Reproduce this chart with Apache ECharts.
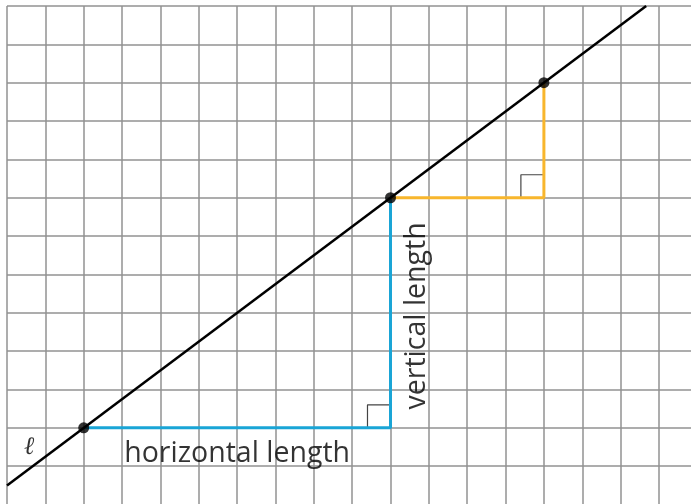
<!DOCTYPE html>
<html>
<head>
<meta charset="utf-8">
<script src="https://cdn.jsdelivr.net/npm/echarts@6/dist/echarts.min.js"></script>
<style>
html,body{margin:0;padding:0;background:#fff;}
#chart{width:691px;height:504px;}
</style>
</head>
<body>
<div id="chart"></div>
<script>
// Grid extent (cells)
const xRange = [0, 18];
const yRange = [0, 13];
// Line ℓ end points and marked points on it
const lineEnds = [[0, 0.5], [16.667, 13]];
const linePoints = [[2, 2], [10, 8], [14, 11]];
// Slope triangles
const blueLegs = [[2, 2], [10, 2], [10, 8]];
const orangeLegs = [[10, 8], [14, 8], [14, 11]];
// Right-angle markers
const blueCorner = [[9.4, 2], [9.4, 2.6], [10, 2.6]];
const orangeCorner = [[13.4, 8], [13.4, 8.6], [14, 8.6]];
// Labels
const labels = [
  { value: [6.0, 1.33], text: 'horizontal length', rotate: 0 },
  { value: [10.68, 4.92], text: 'vertical length', rotate: 90 }
];
const lineLabel = { value: [0.57, 1.5], text: 'ℓ' };

const cell = 38.35;
const chart = echarts.init(document.getElementById('chart'));
const axisCommon = {
  type: 'value',
  interval: 1,
  axisLine: { show: false },
  axisTick: { show: false },
  axisLabel: { show: false },
  splitLine: { show: true, lineStyle: { color: '#929292', width: 1.5 } }
};
chart.setOption({
  animation: false,
  backgroundColor: '#fff',
  grid: {
    left: 7, top: 6,
    width: cell * (xRange[1] - xRange[0]),
    height: cell * (yRange[1] - yRange[0]),
    containLabel: false,
    outerBoundsMode: 'none'
  },
  xAxis: Object.assign({ min: xRange[0], max: xRange[1] }, axisCommon),
  yAxis: Object.assign({ min: yRange[0], max: yRange[1] }, axisCommon),
  series: [
    { type: 'line', data: blueCorner, symbol: 'none', lineStyle: { color: '#444', width: 1.2 }, z: 3 },
    { type: 'line', data: orangeCorner, symbol: 'none', lineStyle: { color: '#444', width: 1.2 }, z: 3 },
    { type: 'line', data: blueLegs, symbol: 'none', lineStyle: { color: '#1aa5d6', width: 3 }, z: 4 },
    { type: 'line', data: orangeLegs, symbol: 'none', lineStyle: { color: '#f8b62d', width: 3 }, z: 4 },
    { type: 'line', data: lineEnds, symbol: 'none', lineStyle: { color: '#000', width: 2.5 }, z: 5 },
    { type: 'scatter', data: linePoints, symbol: 'circle', symbolSize: 11, itemStyle: { color: '#000' }, z: 6 },
    {
      type: 'scatter', symbolSize: 0, z: 7,
      data: labels.map(l => ({
        value: l.value,
        label: {
          show: true, position: 'inside', formatter: l.text, rotate: l.rotate,
          fontFamily: 'Open Sans', fontSize: 28.5, color: '#000', align: 'center', verticalAlign: 'middle'
        }
      }))
    },
    {
      type: 'scatter', symbolSize: 0, z: 7,
      data: [{
        value: lineLabel.value,
        label: { show: true, position: 'inside', formatter: lineLabel.text, fontFamily: 'DejaVu Serif', fontStyle: 'italic', fontSize: 25, color: '#000' }
      }]
    }
  ]
});
</script>
</body>
</html>
